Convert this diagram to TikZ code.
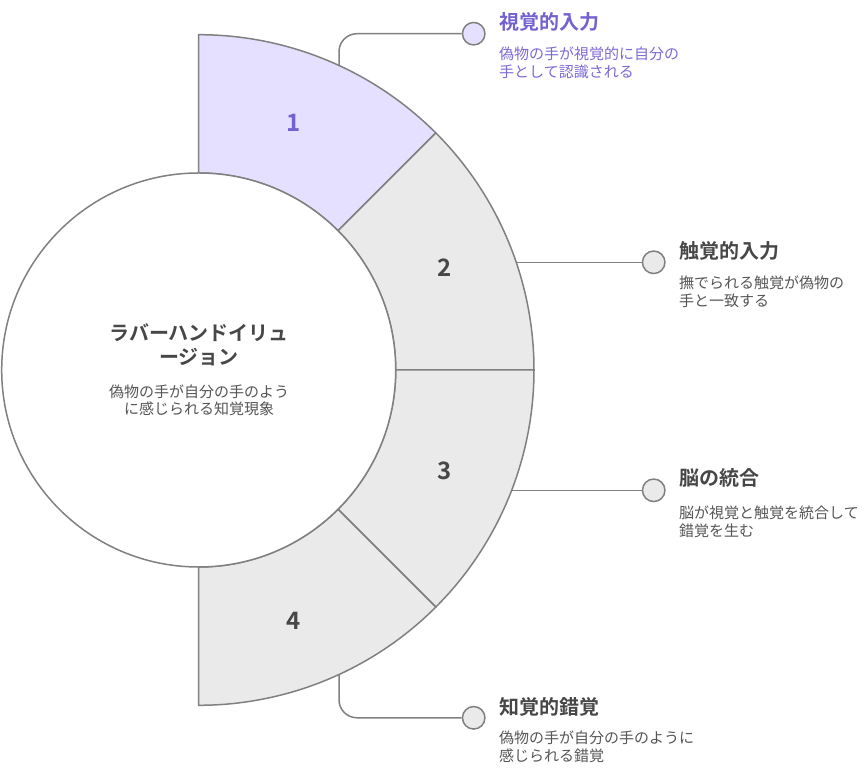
\documentclass[tikz,border=0pt]{standalone}
\usepackage{fontspec}
\setmainfont{Noto Sans CJK JP}[BoldFont={Noto Sans CJK JP Bold}]
\definecolor{strokegray}{HTML}{808080}
\definecolor{segpurple}{HTML}{E5E0FF}
\definecolor{seggray}{HTML}{EAEAEA}
\definecolor{txtpurple}{HTML}{7461D0}
\definecolor{txtpurplelight}{HTML}{7D69D4}
\definecolor{txtdark}{HTML}{474747}
\definecolor{txtgray}{HTML}{555555}
\tikzset{
  seg/.style={draw=strokegray, line width=1.5pt},
  conn/.style={draw=strokegray, line width=1.5pt, rounded corners=18pt},
  dot/.style={circle, draw=strokegray, line width=1.5pt, minimum size=22.5pt, inner sep=0pt},
  numlbl/.style={font=\fontsize{24}{24}\selectfont\bfseries, inner sep=0pt, anchor=center},
  ttl/.style={font=\fontsize{20}{24}\selectfont\bfseries, inner sep=0pt, anchor=base west, text width=220pt, align=left},
  dsc/.style={font=\fontsize{15}{17.8}\selectfont, inner sep=0pt, anchor=base west, text width=220pt, align=left},
}
\begin{document}
\begin{tikzpicture}[x=1pt,y=1pt]
\useasboundingbox (0,0) rectangle (865,770);
\coordinate (C) at (198.7,400);
% segments
\draw[seg, fill=segpurple] ([shift={(90:335.3)}]C) arc[start angle=90, end angle=45, radius=335.3] -- ([shift={(45:197)}]C) arc[start angle=45, end angle=90, radius=197] -- cycle;
\draw[seg, fill=seggray] ([shift={(45:335.3)}]C) arc[start angle=45, end angle=0, radius=335.3] -- ([shift={(0:197)}]C) arc[start angle=0, end angle=45, radius=197] -- cycle;
\draw[seg, fill=seggray] ([shift={(0:335.3)}]C) arc[start angle=0, end angle=-45, radius=335.3] -- ([shift={(-45:197)}]C) arc[start angle=-45, end angle=0, radius=197] -- cycle;
\draw[seg, fill=seggray] ([shift={(-45:335.3)}]C) arc[start angle=-45, end angle=-90, radius=335.3] -- ([shift={(-90:197)}]C) arc[start angle=-90, end angle=-45, radius=197] -- cycle;
% central circle
\node[circle, draw=strokegray, line width=1.5pt, fill=white, minimum size=394pt, inner sep=0pt] (hub) at (C) {};
% numbers
\node[numlbl, text=txtpurple] (n1) at (294,647) {1};
\node[numlbl, text=txtdark] (n2) at (445,502.8) {2};
\node[numlbl, text=txtdark] (n3) at (445,299.5) {3};
\node[numlbl, text=txtdark] (n4) at (294,149.5) {4};
% connector start points on the outer arc
\coordinate (s1) at (339,704.5);
\coordinate (s2) at (516.3,507.7);
\coordinate (s3) at (511.5,279.7);
\coordinate (s4) at (339,95.5);
% end dots
\node[dot, fill=segpurple] (d1) at (473.7,736.3) {};
\node[dot, fill=seggray] (d2) at (653.7,507.7) {};
\node[dot, fill=seggray] (d3) at (653.7,279.7) {};
\node[dot, fill=seggray] (d4) at (473.7,52.2) {};
% connectors
\draw[conn] (s1) |- (d1.west);
\draw[conn] (s2) -- (d2.west);
\draw[conn] (s3) -- (d3.west);
\draw[conn] (s4) |- (d4.west);
% centre text
\node[font=\fontsize{20}{24}\selectfont\bfseries, text=txtdark, inner sep=0pt, anchor=base, text width=240pt, align=center] (ct) at (199,429.4) {ラバーハンドイリュ\\ージョン};
\node[font=\fontsize{15}{16.8}\selectfont, text=txtgray, inner sep=0pt, anchor=base, text width=240pt, align=center] (cd) at (199,372.6) {偽物の手が自分の手のよう\\に感じられる知覚現象};
% side texts
\node[ttl, text=txtpurple] (t1) at (499,740.4) {視覚的入力};
\node[dsc, text=txtpurplelight] (e1) at (499,710) {偽物の手が視覚的に自分の\\手として認識される};
\node[ttl, text=txtdark] (t2) at (679,511.4) {触覚的入力};
\node[dsc, text=txtgray] (e2) at (679,481) {撫でられる触覚が偽物の\\手と一致する};
\node[ttl, text=txtdark] (t3) at (679,284) {脳の統合};
\node[dsc, text=txtgray] (e3) at (679,251) {脳が視覚と触覚を統合して\\錯覚を生む};
\node[ttl, text=txtdark] (t4) at (499,55.7) {知覚的錯覚};
\node[dsc, text=txtgray] (e4) at (499,26) {偽物の手が自分の手のように\\感じられる錯覚};
\end{tikzpicture}
\end{document}
